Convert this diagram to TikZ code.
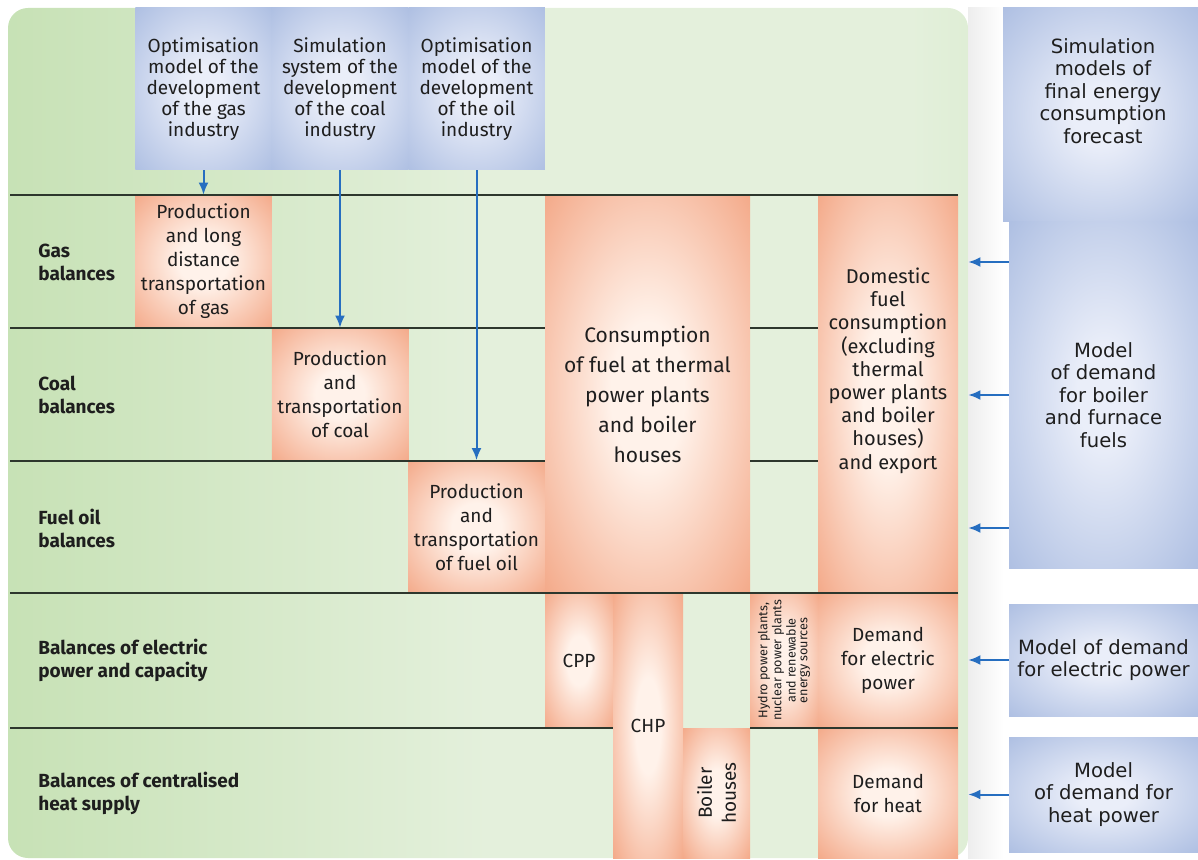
\documentclass[tikz,border=0pt]{standalone}
\usepackage{fontspec}
\setmainfont{Fira Sans}
\newfontfamily\widefont{DejaVu Sans}
\usetikzlibrary{arrows.meta,positioning,calc}

\definecolor{orout}{RGB}{240,146,106}
\definecolor{orin}{RGB}{255,242,234}
\definecolor{blout}{RGB}{152,174,218}
\definecolor{blin}{RGB}{234,238,249}
\definecolor{grleft}{RGB}{170,211,143}
\definecolor{grmid}{RGB}{228,240,220}
\definecolor{grright}{RGB}{180,218,158}
\definecolor{flowblue}{RGB}{38,110,192}
\definecolor{rulecol}{RGB}{45,55,45}
\definecolor{ink}{RGB}{30,30,30}

\pgfdeclareradialshading{softorange}{\pgfpoint{0bp}{0bp}}{color(0bp)=(orin); color(9bp)=(orin); color(44bp)=(orout); color(50bp)=(orout)}
\pgfdeclareradialshading{softblue}{\pgfpoint{0bp}{0bp}}{color(0bp)=(blin); color(7bp)=(blin); color(46bp)=(blout); color(50bp)=(blout)}
\pgfdeclarehorizontalshading{greenband}{100bp}{color(0bp)=(grleft); color(50bp)=(grmid); color(72bp)=(grmid); color(100bp)=(grright)}

\begin{document}
\begin{tikzpicture}[x=0.5pt,y=-0.5pt,
    every node/.style={inner sep=0pt, text=ink, font=\fontsize{9.5}{12}\selectfont},
    panel/.style={rectangle, rounded corners=10pt, shading=greenband, minimum width=480pt, minimum height=425pt},
    modelbox/.style={rectangle, shading=softblue, minimum width=68.25pt, minimum height=81pt, align=center, font=\fontsize{9.5}{10.5}\selectfont},
    orbox/.style={rectangle, shading=softorange, align=center},
    prodbox/.style={orbox, minimum width=68.25pt, minimum height=66.5pt},
    rowlbl/.style={anchor=west, align=left, font=\bfseries\fontsize{9.5}{11.5}\selectfont},
    sidebox/.style={rectangle, shading=softblue, minimum width=94.5pt, align=center, font=\widefont\fontsize{9.8}{11.2}\selectfont},
    flow/.style={->, >={Latex[length=6pt,width=5pt]}, draw=flowblue, line width=1pt},
    rule/.style={draw=rulecol, line width=0.7pt}
  ]
  \useasboundingbox (0,0) rectangle (1198,860);

  % background panel
  \node[panel] (panel) at (488,433) {};
  \fill[left color=black!7, right color=white] (968,8) rectangle (1003,858);

  % models on top
  \node[modelbox] (gasmodel) at (203.5,89) {Optimisation\\model of the\\development\\of the gas\\industry};
  \node[modelbox] (coalmodel) at (340,89) {Simulation\\system of the\\development\\of the coal\\industry};
  \node[modelbox] (oilmodel) at (476.5,89) {Optimisation\\model of the\\development\\of the oil\\industry};

  % models on the right
  \node[sidebox, minimum width=97.5pt, minimum height=107pt] (simbox) at (1100.5,115) {};
  \node[align=center, font=\widefont\fontsize{9.8}{11.2}\selectfont] (simtext) at (1103,91) {Simulation\\models of\\final energy\\consumption\\forecast};
  \node[sidebox, minimum height=173pt] (fuels) at (1103.5,395) {Model\\of demand\\for boiler\\and furnace\\fuels};
  \node[sidebox, minimum height=56pt] (elecmodel) at (1103.5,660) {Model of demand\\for electric power};
  \node[sidebox, minimum height=57.5pt] (heatmodel) at (1103.5,794.5) {Model\\of demand for\\heat power};

  % production
  \node[prodbox] (prodgas) at (203.5,261.5) {Production\\and long\\distance\\transportation\\of gas};
  \node[prodbox] (prodcoal) at (340,394.5) {Production\\and\\transportation\\of coal};
  \node[prodbox] (prodoil) at (476.5,527) {Production\\and\\transportation\\of fuel oil};

  % consumption
  \node[orbox, minimum width=102.5pt, minimum height=199pt, font=\fontsize{10.5}{15}\selectfont] (tpp) at (647.5,394) {Consumption\\of fuel at thermal\\power plants\\and boiler\\houses};
  \node[orbox, minimum width=70pt, minimum height=199pt, font=\fontsize{10}{11.6}\selectfont] (domestic) at (888,394) {Domestic\\fuel\\consumption\\(excluding\\thermal\\power plants\\and boiler\\houses)\\and export\\[14pt]};

  % generation
  \node[orbox, minimum width=34pt, minimum height=67.5pt] (cpp) at (579,660.5) {CPP};
  \node[orbox, minimum width=35pt, minimum height=132.5pt] (chp) at (648,725.5) {CHP};
  \node[orbox, rotate=90, minimum width=65pt, minimum height=33.5pt] (boilers) at (716.5,793) {Boiler\\houses};
  \node[orbox, rotate=90, minimum width=67.5pt, minimum height=34pt, font=\fontsize{6.3}{5.9}\selectfont] (hydro) at (784,660.5) {Hydro power plants,\\nuclear power plants\\and renewable\\energy sources};
  \node[orbox, minimum width=70pt, minimum height=67.5pt] (elecdemand) at (888,660.5) {Demand\\for electric\\power};
  \node[orbox, minimum width=70pt, minimum height=65pt] (heatdemand) at (888,793) {Demand\\for heat};

  % row rules
  \draw[rule] (10,195) -- (958,195);
  \draw[rule] (10,328) -- (545,328) (750,328) -- (818,328);
  \draw[rule] (10,461) -- (545,461) (750,461) -- (818,461);
  \draw[rule] (10,593) -- (958,593);
  \draw[rule] (10,728) -- (613,728) (750,728) -- (958,728);

  % row labels
  \node[rowlbl] (gaslbl) at (38,262) {Gas\\balances};
  \node[rowlbl] (coallbl) at (38,395) {Coal\\balances};
  \node[rowlbl] (oillbl) at (38,528) {Fuel oil\\balances};
  \node[rowlbl] (eleclbl) at (38,660) {Balances of electric\\power and capacity};
  \node[rowlbl] (heatlbl) at (38,793) {Balances of centralised\\heat supply};

  % Define the edges
  \draw[flow] (gasmodel) -- (prodgas);
  \draw[flow] (coalmodel) -- (prodcoal);
  \draw[flow] (oilmodel) -- (prodoil);
  \draw[flow] (fuels.west |- gaslbl) -- (panel.east |- gaslbl);
  \draw[flow] (fuels.west |- coallbl) -- (panel.east |- coallbl);
  \draw[flow] (fuels.west |- oillbl) -- (panel.east |- oillbl);
  \draw[flow] (elecmodel) -- (panel.east |- elecmodel);
  \draw[flow] (heatmodel) -- (panel.east |- heatmodel);
\end{tikzpicture}
\end{document}
